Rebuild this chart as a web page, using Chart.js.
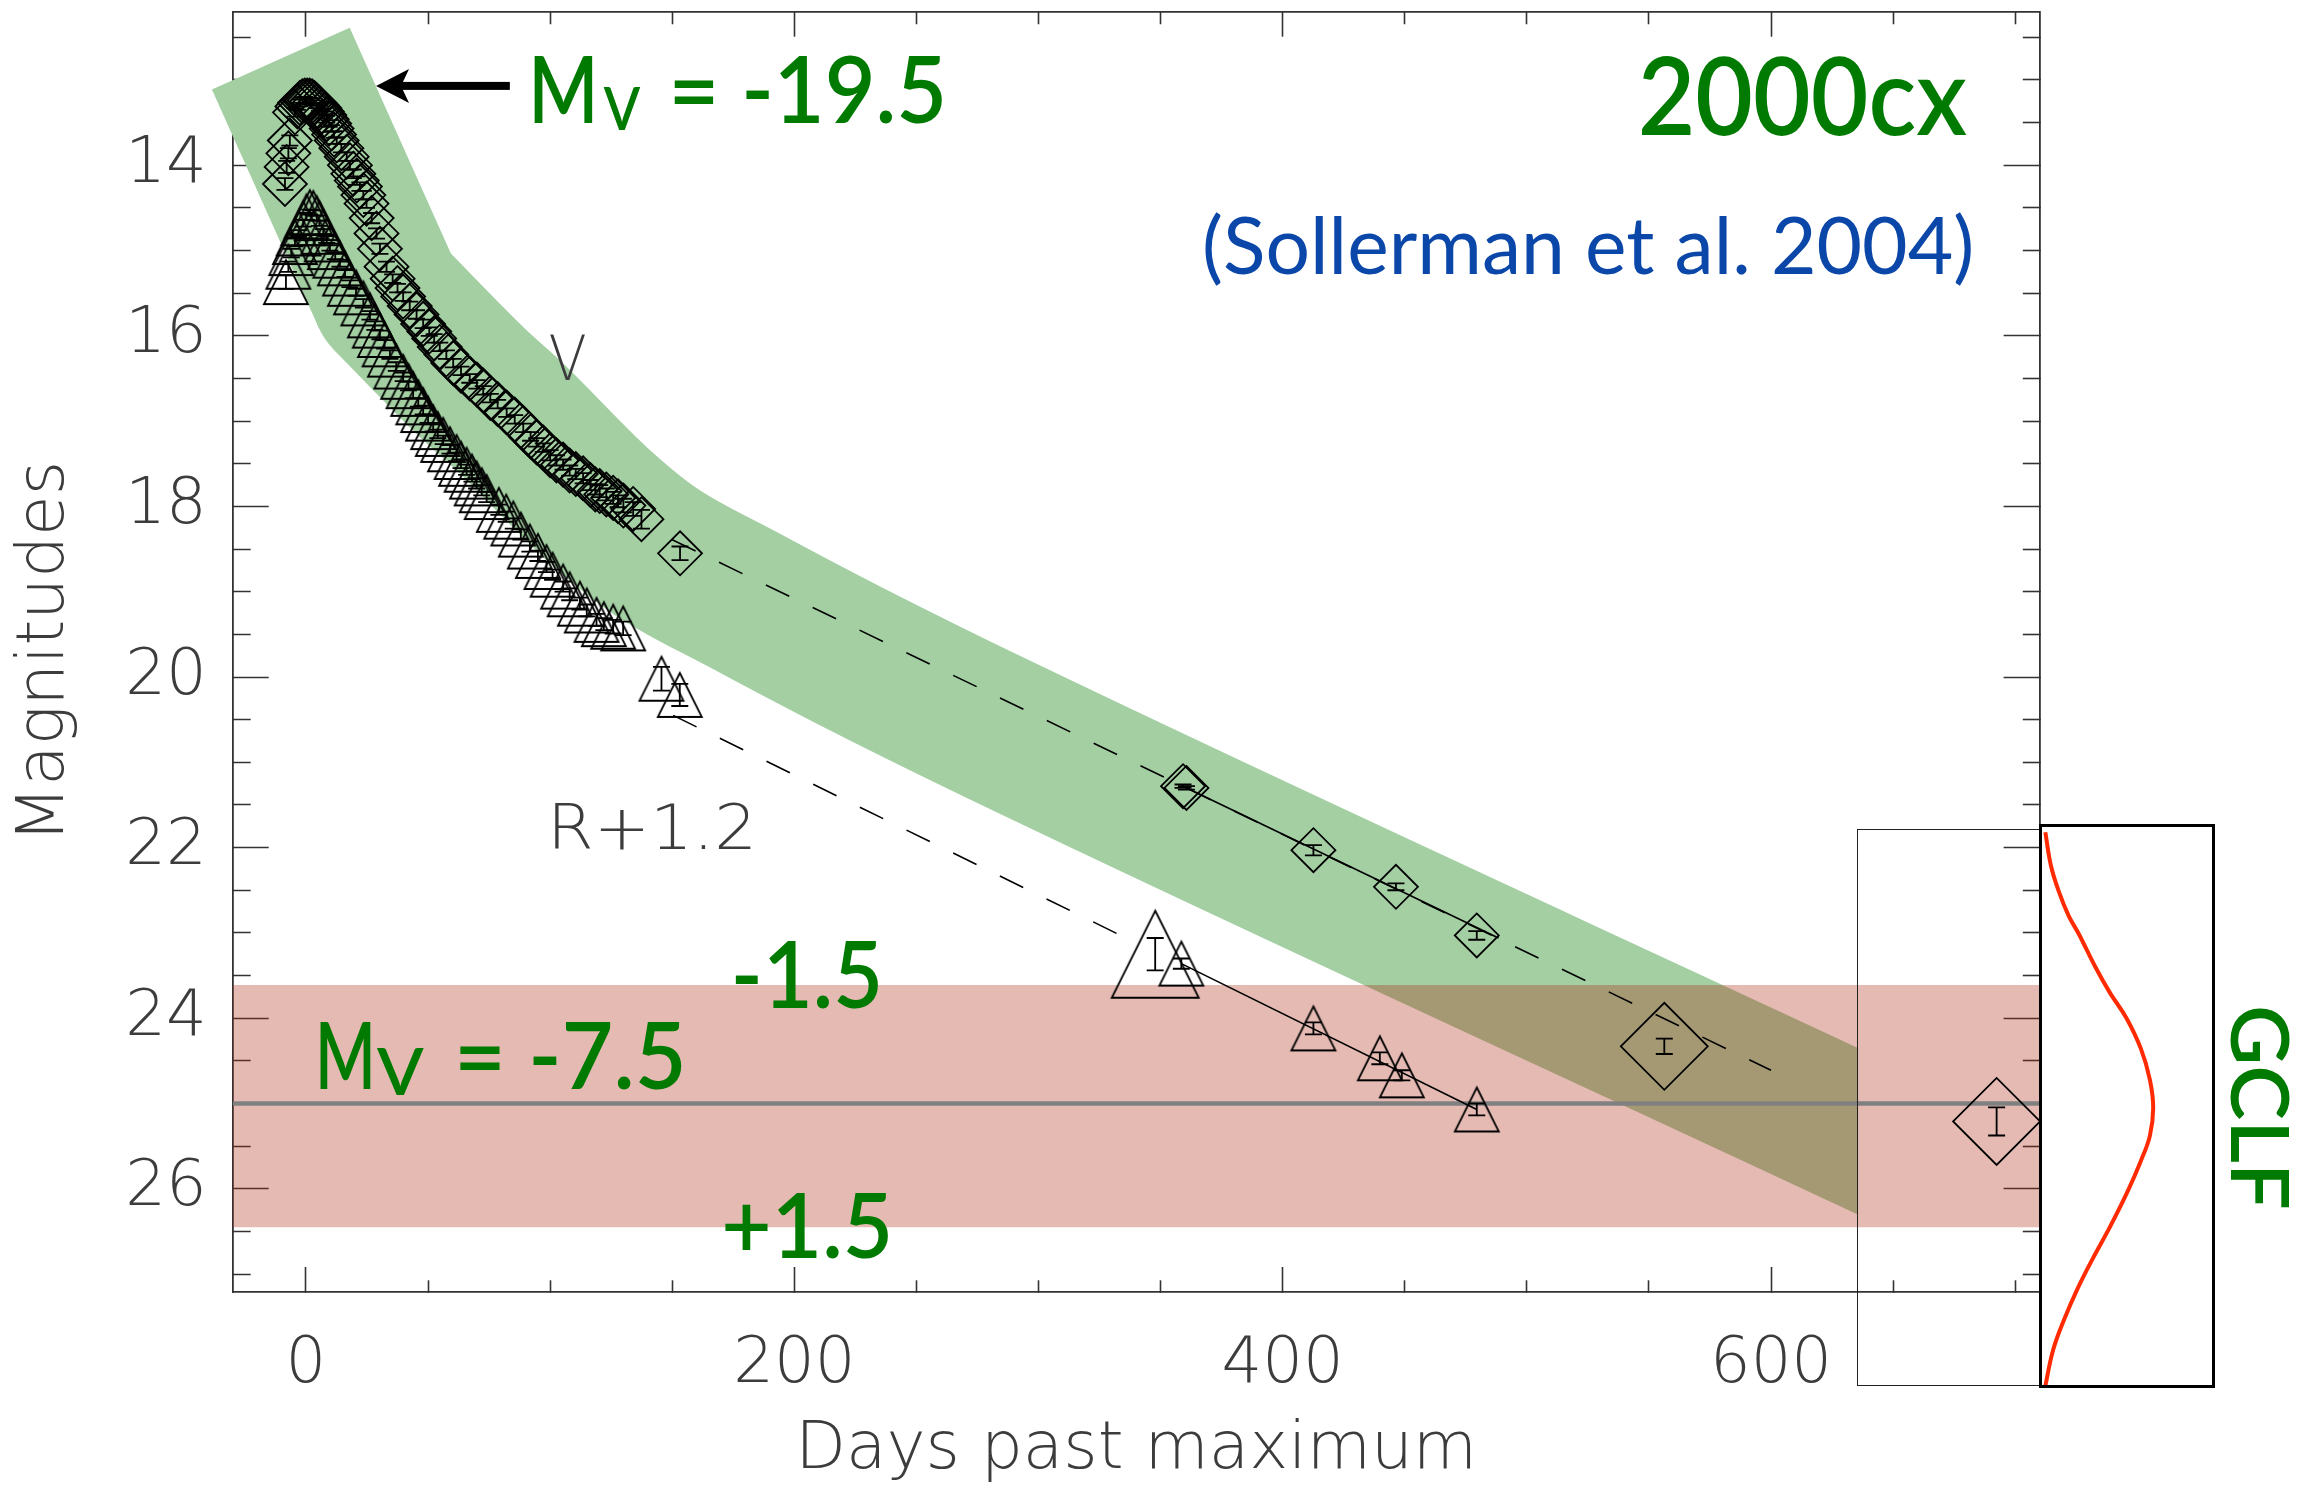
<!DOCTYPE html>
<html>
<head>
<meta charset="utf-8">
<script src="https://cdn.jsdelivr.net/npm/chart.js"></script>
<style>
  html, body { margin: 0; padding: 0; background: #fff; }
  #wrap { position: relative; width: 2320px; height: 1490px; }
  #chart { position: absolute; left: 0; top: 0; }
  #frame { position: absolute; left: 1857px; top: 829px; width: 184px; height: 557px; border: 1px solid #222; box-sizing: border-box; }
  #gclfBox { position: absolute; left: 2039px; top: 824px; width: 176px; height: 564px; border: 3px solid #000; box-sizing: border-box; }
  #gclf { display: block; }
</style>
</head>
<body>
<div id="wrap">
  <canvas id="chart" width="2320" height="1490"></canvas>
  <div id="frame"></div>
  <div id="gclfBox"><canvas id="gclf" width="170" height="558"></canvas></div>
</div>
<script>
// V light curve (diamonds)
const vDays = [-8.6, -7.9, -7.2, -6.6, -4.5, -3.5, -2.5, -1.5, -0.5, 0.5, 1.5, 2.5, 3.5, 4.5, 5.5, 6.5, 7.5, 8.5, 9.5,
  10.5, 11.5, 12.6, 14.5, 16.7, 18.0, 19.4, 20.8, 22.1, 23.5, 24.8, 26.9, 28.9, 30.3, 33.0, 35.5, 37.5, 39.8, 42.5, 45.3,
  48.0, 50.5, 52.5, 54.8, 57.5, 60.3, 63.5, 67.1, 70.0, 72.6, 75.5, 78.5, 82.2, 85.5, 89.0, 92.0, 94.5, 97.2, 100.0,
  102.6, 105.3, 108.0, 110.5, 113.5, 116.5, 118.5, 120.3, 123.0, 125.8, 127.8, 130.0, 134.0, 137.4, 153.2,
  359.2, 360.6, 412.6, 446.4, 479.5, 556.3, 692.4];
const vMags = [14.22, 14.02, 13.86, 13.71, 13.38, 13.31, 13.27, 13.25, 13.24, 13.24, 13.24, 13.25, 13.27, 13.30, 13.33,
  13.37, 13.41, 13.46, 13.51, 13.57, 13.64, 13.71, 13.80, 13.90, 14.00, 14.10, 14.18, 14.25, 14.35, 14.45, 14.62, 14.80,
  14.98, 15.19, 15.33, 15.44, 15.54, 15.65, 15.75, 15.86, 15.95, 16.03, 16.13, 16.22, 16.32, 16.41, 16.50, 16.57, 16.64,
  16.73, 16.80, 16.90, 16.98, 17.08, 17.18, 17.25, 17.31, 17.40, 17.46, 17.51, 17.58, 17.62, 17.67, 17.75, 17.80, 17.82,
  17.86, 17.90, 17.94, 17.99, 18.03, 18.15, 18.55, 21.28, 21.30, 22.03, 22.46, 23.03, 24.33, 25.21];
const vErrs = [0.07, 0.07, 0.06, 0.06, 0.05, 0.04, 0.04, 0.04, 0.04, 0.03, 0.03, 0.03, 0.03, 0.03, 0.03, 0.03, 0.04,
  0.04, 0.04, 0.04, 0.04, 0.04, 0.05, 0.05, 0.05, 0.05, 0.05, 0.05, 0.05, 0.05, 0.06, 0.06, 0.06, 0.06, 0.05, 0.05, 0.05,
  0.05, 0.05, 0.05, 0.05, 0.05, 0.05, 0.05, 0.05, 0.05, 0.05, 0.05, 0.05, 0.05, 0.05, 0.05, 0.05, 0.05, 0.05, 0.05, 0.05,
  0.06, 0.06, 0.06, 0.06, 0.06, 0.06, 0.06, 0.06, 0.07, 0.07, 0.07, 0.07, 0.08, 0.08, 0.11, 0.08, 0.02, 0.02, 0.06, 0.04,
  0.05, 0.09, 0.165];

// R+1.2 light curve (triangles)
const rDays = [-8.2, -7.2, -6.0, -4.5, -3.0, -1.1, 0.2, 1.6, 3.0, 4.4, 5.5, 7.1, 8.5, 9.8, 12.0, 13.9, 16.0, 18.0, 20.5,
  23.5, 26.2, 28.2, 30.3, 32.2, 34.4, 37.0, 39.8, 42.0, 43.9, 46.0, 48.0, 50.0, 52.1, 54.0, 56.2, 59.0, 61.7, 63.5, 65.8,
  68.0, 69.9, 72.0, 74.0, 79.0, 82.0, 84.9, 88.0, 91.7, 95.0, 98.5, 101.0, 105.3, 108.0, 112.2, 115.0, 119.0, 122.0,
  125.8, 129.9, 145.6, 153.1, 347.8, 358.5, 412.6, 439.8, 448.8, 479.5];
const rMags = [15.37, 15.19, 15.03, 14.90, 14.80, 14.68, 14.60, 14.55, 14.56, 14.62, 14.68, 14.78, 14.87, 14.96, 15.06,
  15.15, 15.27, 15.39, 15.49, 15.62, 15.76, 15.88, 15.99, 16.10, 16.22, 16.36, 16.48, 16.59, 16.68, 16.78, 16.87, 16.97,
  17.07, 17.15, 17.22, 17.33, 17.42, 17.50, 17.57, 17.65, 17.73, 17.81, 17.89, 18.04, 18.12, 18.20, 18.33, 18.47, 18.58,
  18.71, 18.80, 18.94, 19.03, 19.14, 19.22, 19.33, 19.38, 19.41, 19.43, 20.02, 20.21, 23.25, 23.36, 24.12, 24.47, 24.67,
  25.07];
const rErrs = [0.08, 0.06, 0.05, 0.05, 0.04, 0.04, 0.04, 0.03, 0.03, 0.03, 0.03, 0.03, 0.04, 0.04, 0.04, 0.04, 0.04,
  0.04, 0.04, 0.05, 0.05, 0.05, 0.05, 0.05, 0.05, 0.05, 0.05, 0.05, 0.05, 0.05, 0.05, 0.05, 0.05, 0.05, 0.05, 0.05, 0.05,
  0.05, 0.06, 0.06, 0.06, 0.06, 0.06, 0.06, 0.06, 0.06, 0.06, 0.06, 0.06, 0.06, 0.06, 0.06, 0.07, 0.07, 0.07, 0.07, 0.07,
  0.08, 0.08, 0.14, 0.13, 0.19, 0.06, 0.07, 0.07, 0.06, 0.07];

// decline lines
const vDashDays = [150, 600], vDashMags = [18.39, 24.61];
const rDashDays = [150.4, 332.3], rDashMags = [20.45, 23.01];
const vFitDays = [359.2, 488.4], vFitMags = [21.28, 23.06];
const rFitDays = [358.5, 479.5], rFitMags = [23.36, 25.07];

// green template band: steep rise segment, bend point, smooth tail
const bandRiseDays = [-10.3, 33.4], bandRiseMags = [12.75, 15.54];
const bandTailDays = [33.4, 52.4, 68.5, 83.5, 118.8, 142.3, 178.9, 222.7, 284.1, 635.2, 693.4];
const bandTailMags = [15.54, 16.10, 16.56, 16.95, 17.96, 18.51, 19.09, 19.75, 20.62, 25.32, 26.10];

// globular cluster luminosity function
const gclfPeak = 25.0, gclfBright = 23.61, gclfFaint = 26.45;
const gclfMags = [21.82, 22.21, 22.51, 22.80, 23.01, 23.40, 23.70, 24.00, 24.36, 24.72, 25.05, 25.38, 25.67, 26.03,
  26.45, 26.81, 27.17, 27.53, 27.89, 28.31];
const gclfAmp = [0.03, 0.08, 0.15, 0.24, 0.33, 0.48, 0.61, 0.76, 0.89, 0.97, 1.00, 0.97, 0.89, 0.77, 0.61, 0.46, 0.32,
  0.20, 0.10, 0.03];

const xTickStep = 50, yTickStep = 0.5;
const bigMarkerDays = [347.8, 556.3, 692.4];

const GREEN = '#007A00', BLUE = '#0A47A8', INK = '#3c3c3c', BAND = '#A3CFA3';
const BAND_WIDTH = 151;

const labels = [
  {text: 'M', day: 93.4, mag: 13.505, size: 92, width: 58.7},
  {text: 'V', day: 121.6, mag: 13.584, size: 60, width: 38},
  {text: '= -19.5', day: 150.8, mag: 13.505, size: 92, width: 267.8},
  {text: 'M', day: 5.7, mag: 24.826, size: 93, width: 51},
  {text: 'V', day: 28.65, mag: 24.905, size: 65, width: 48},
  {text: '= -7.5', day: 63.0, mag: 24.826, size: 93, width: 222},
  {text: '-1.5', day: 175.9, mag: 23.885, size: 93, width: 143},
  {text: '+1.5', day: 171.7, mag: 26.815, size: 90, width: 163},
  {text: '2000cx', day: 546.9, mag: 13.645, size: 107, width: 325},
  {text: '(Sollerman et al. 2004)', day: 368.2, mag: 15.273, size: 80, width: 766, color: BLUE, weight: 'normal'},
  {text: 'V', day: 99.7, mag: 16.514, size: 63, width: 35.5, color: INK, weight: 200, family: 'DejaVu Sans'},
  {text: 'R+1.2', day: 101.8, mag: 22.016, size: 63, width: 196, color: INK, weight: 200, family: 'DejaVu Sans'}
];
const gclfLabel = {text: 'GCLF', day: 788.3, mag: 23.88, size: 81, width: 200};

const toXY = (xs, ys) => xs.map((x, i) => ({x, y: ys[i]}));
const isBig = d => bigMarkerDays.includes(d);

const triCache = {};
function triangle(size) {
  if (triCache[size]) return triCache[size];
  const pad = 4;
  const c = document.createElement('canvas');
  c.width = size + 2 * pad;
  c.height = size + 2 * pad;
  const g = c.getContext('2d');
  g.strokeStyle = '#000';
  g.lineWidth = 1.8;
  g.beginPath();
  g.moveTo(pad + size / 2, pad);
  g.lineTo(pad + size, pad + size);
  g.lineTo(pad, pad + size);
  g.closePath();
  g.stroke();
  triCache[size] = c;
  return c;
}

function fitText(ctx, l, left, base) {
  ctx.save();
  ctx.font = `${l.weight || 600} ${l.size}px ${l.family || 'Lato'}`;
  ctx.fillStyle = l.color || GREEN;
  ctx.textBaseline = 'alphabetic';
  ctx.textAlign = 'left';
  const m = ctx.measureText(l.text);
  const ink = m.actualBoundingBoxLeft + m.actualBoundingBoxRight;
  const s = l.width ? l.width / ink : 1;
  ctx.translate(left + m.actualBoundingBoxLeft * s, base);
  ctx.scale(s, 1);
  ctx.fillText(l.text, 0, 0);
  ctx.restore();
}

const errorBars = {
  id: 'errorBars',
  afterDatasetsDraw(chart) {
    const {ctx, scales: {y}} = chart;
    chart.data.datasets.forEach((ds, i) => {
      if (!ds.errors) return;
      const meta = chart.getDatasetMeta(i);
      ctx.save();
      ctx.strokeStyle = '#000';
      ctx.lineWidth = 1.8;
      meta.data.forEach((pt, j) => {
        const m = ds.data[j].y, e = ds.errors[j];
        const y1 = y.getPixelForValue(m - e), y2 = y.getPixelForValue(m + e);
        const cap = 8.5;
        ctx.beginPath();
        ctx.moveTo(pt.x, y1); ctx.lineTo(pt.x, y2);
        ctx.moveTo(pt.x - cap, y1); ctx.lineTo(pt.x + cap, y1);
        ctx.moveTo(pt.x - cap, y2); ctx.lineTo(pt.x + cap, y2);
        ctx.stroke();
      });
      ctx.restore();
    });
  }
};

const annotate = {
  id: 'annotate',
  afterDraw(chart) {
    const {ctx, scales: {x, y}} = chart;
    labels.forEach(l => fitText(ctx, l, x.getPixelForValue(l.day), y.getPixelForValue(l.mag)));

    // arrow pointing at the peak
    const ay = y.getPixelForValue(13.07), tip = x.getPixelForValue(28.7), tail = x.getPixelForValue(83.5);
    ctx.save();
    ctx.fillStyle = '#000';
    ctx.fillRect(tip + 22, ay - 4, tail - tip - 22, 8);
    ctx.beginPath();
    ctx.moveTo(tip, ay);
    ctx.lineTo(tip + 33, ay - 17);
    ctx.lineTo(tip + 25, ay);
    ctx.lineTo(tip + 33, ay + 17);
    ctx.closePath();
    ctx.fill();
    ctx.restore();

    ctx.save();
    ctx.translate(x.getPixelForValue(gclfLabel.day), y.getPixelForValue(gclfLabel.mag));
    ctx.rotate(Math.PI / 2);
    fitText(ctx, gclfLabel, 0, 0);
    ctx.restore();
  }
};

const onStep = (v, step) => Math.abs(v / step - Math.round(v / step)) < 1e-6;
const tickFont = {family: 'DejaVu Sans', size: 64, weight: 200};
const titleFont = {family: 'DejaVu Sans', size: 66, weight: 200};
const axisBorder = {display: true, color: '#333', width: 1.8};
const bandClip = {left: 40, top: 30, right: -181.5, bottom: 0};

const chart = new Chart(document.getElementById('chart'), {
  type: 'scatter',
  data: {
    datasets: [
      {
        data: toXY(vDays, vMags),
        errors: vErrs,
        pointStyle: 'rectRot',
        pointRadius: c => isBig(vDays[c.dataIndex]) ? 43.5 : 22,
        borderColor: '#000',
        backgroundColor: 'rgba(0,0,0,0)',
        borderWidth: 1.8,
        order: 1
      },
      {
        data: toXY(rDays, rMags),
        errors: rErrs,
        pointStyle: c => triangle(isBig(rDays[c.dataIndex]) ? 87 : 44),
        pointRadius: c => isBig(rDays[c.dataIndex]) ? 44 : 22,
        borderColor: '#000',
        backgroundColor: 'rgba(0,0,0,0)',
        order: 1
      },
      {data: toXY(vDashDays, vDashMags), showLine: true, pointRadius: 0, borderColor: '#000', borderWidth: 1.6, borderDash: [26, 26], order: 2},
      {data: toXY(rDashDays, rDashMags), showLine: true, pointRadius: 0, borderColor: '#000', borderWidth: 1.6, borderDash: [26, 26], order: 2},
      {data: toXY(vFitDays, vFitMags), showLine: true, pointRadius: 0, borderColor: '#000', borderWidth: 1.6, order: 2},
      {data: toXY(rFitDays, rFitMags), showLine: true, pointRadius: 0, borderColor: '#000', borderWidth: 1.6, order: 2},
      {
        data: toXY([-30, 710], [gclfPeak, gclfPeak]),
        showLine: true, pointRadius: 0, borderColor: '#808080', borderWidth: 4.5, order: 7
      },
      {
        data: toXY([-30, 710], [gclfBright, gclfBright]),
        showLine: true, pointRadius: 0, borderWidth: 0, fill: '+1',
        backgroundColor: 'rgba(170,40,20,0.32)', order: 8
      },
      {
        data: toXY([-30, 710], [gclfFaint, gclfFaint]),
        showLine: true, pointRadius: 0, borderWidth: 0, order: 8
      },
      {
        data: toXY(bandRiseDays, bandRiseMags),
        showLine: true, pointRadius: 0,
        borderColor: BAND, borderWidth: BAND_WIDTH, borderCapStyle: 'butt',
        clip: bandClip, order: 9
      },
      {
        data: toXY(bandRiseDays.slice(-1), bandRiseMags.slice(-1)),
        pointStyle: 'circle', pointRadius: BAND_WIDTH / 2, pointBorderWidth: 0,
        backgroundColor: BAND, borderWidth: 0,
        clip: bandClip, order: 9
      },
      {
        data: toXY(bandTailDays, bandTailMags),
        showLine: true, pointRadius: 0,
        borderColor: BAND, borderWidth: BAND_WIDTH,
        borderCapStyle: 'butt', borderJoinStyle: 'round',
        cubicInterpolationMode: 'monotone',
        clip: bandClip, order: 9
      }
    ]
  },
  options: {
    responsive: false,
    animation: false,
    events: [],
    layout: {autoPadding: false, padding: {left: 0, top: 11.7, right: 280.4, bottom: 0}},
    plugins: {legend: {display: false}, tooltip: {enabled: false}},
    scales: {
      x: {
        type: 'linear', position: 'bottom', min: -30, max: 710,
        afterFit: s => { s.height = 198; s.paddingLeft = 0; s.paddingRight = 0; },
        border: axisBorder,
        grid: {
          drawOnChartArea: false, tickLength: -25, tickColor: '#333', tickWidth: 1.6,
          tickBorderDash: c => onStep(c.tick.value, 200) ? [] : [12.5, 200]
        },
        ticks: {
          stepSize: xTickStep, autoSkip: false, includeBounds: false, maxRotation: 0, padding: 60,
          color: INK, font: tickFont,
          callback: v => onStep(v, 200) ? String(v) : ''
        },
        title: {display: true, text: 'Days past maximum', color: INK, font: titleFont, padding: {top: 0, bottom: 0}}
      },
      x2: {
        type: 'linear', position: 'top', min: -30, max: 710,
        afterFit: s => { s.height = 0; s.paddingLeft = 0; s.paddingRight = 0; },
        border: axisBorder,
        grid: {
          drawOnChartArea: false, tickLength: -25, tickColor: '#333', tickWidth: 1.6,
          tickBorderDash: c => onStep(c.tick.value, 200) ? [] : [0, 12.5, 12.5, 200]
        },
        ticks: {stepSize: xTickStep, autoSkip: false, includeBounds: false, display: false}
      },
      y: {
        type: 'linear', position: 'left', reverse: true, min: 12.2, max: 27.21,
        afterFit: s => { s.width = 232.7; s.paddingTop = 0; s.paddingBottom = 0; },
        border: axisBorder,
        grid: {
          drawOnChartArea: false, tickLength: -36, tickColor: '#333', tickWidth: 1.6,
          tickBorderDash: c => onStep(c.tick.value, 2) ? [] : [0, 18, 18, 200]
        },
        ticks: {
          stepSize: yTickStep, autoSkip: false, includeBounds: false, padding: 62,
          color: INK, font: tickFont,
          callback: v => onStep(v, 2) ? String(Math.round(v)) : ''
        },
        title: {display: true, text: 'Magnitudes', color: INK, font: titleFont, padding: {top: 6, bottom: 0}}
      },
      y2: {
        type: 'linear', position: 'right', reverse: true, min: 12.2, max: 27.21,
        afterFit: s => { s.width = 0; s.paddingTop = 0; s.paddingBottom = 0; },
        border: axisBorder,
        grid: {
          drawOnChartArea: false, tickLength: -36, tickColor: '#333', tickWidth: 1.6,
          tickBorderDash: c => onStep(c.tick.value, 2) ? [] : [18, 200]
        },
        ticks: {stepSize: yTickStep, autoSkip: false, includeBounds: false, display: false}
      }
    }
  },
  plugins: [errorBars, annotate]
});

// inset: GCLF on the same magnitude scale
const insetCanvas = document.getElementById('gclf');
const wrapTop = document.getElementById('wrap').getBoundingClientRect().top;
const insetTop = insetCanvas.getBoundingClientRect().top - wrapTop;
const ys = chart.scales.y;
new Chart(insetCanvas, {
  type: 'scatter',
  data: {
    datasets: [{
      data: toXY(gclfAmp, gclfMags),
      showLine: true, pointRadius: 0, tension: 0.4,
      borderColor: '#FF2A00', borderWidth: 4
    }]
  },
  options: {
    responsive: false,
    animation: false,
    events: [],
    layout: {autoPadding: false, padding: 0},
    plugins: {legend: {display: false}, tooltip: {enabled: false}},
    scales: {
      x: {display: false, min: 0, max: 170 / 111.2},
      y: {
        display: false, reverse: true,
        min: ys.getValueForPixel(insetTop),
        max: ys.getValueForPixel(insetTop + insetCanvas.height)
      }
    }
  }
});
</script>
</body>
</html>
